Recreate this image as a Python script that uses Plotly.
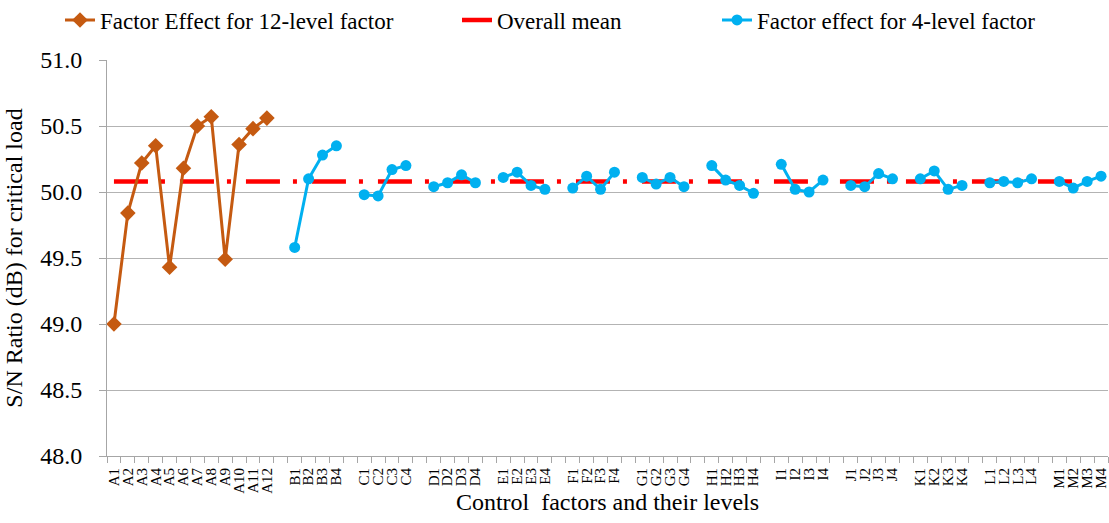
import plotly.graph_objects as go

# ---- data ----
a_levels = ["A1", "A2", "A3", "A4", "A5", "A6", "A7", "A8", "A9", "A10", "A11", "A12"]
a_values = [49.00, 49.84, 50.22, 50.35, 49.43, 50.18, 50.50, 50.57, 49.49, 50.36, 50.48, 50.56]

four_factors = ["B", "C", "D", "E", "F", "G", "H", "I", "J", "K", "L", "M"]
four_values = {
    "B": [49.58, 50.10, 50.28, 50.35],
    "C": [49.98, 49.97, 50.17, 50.20],
    "D": [50.04, 50.07, 50.13, 50.07],
    "E": [50.11, 50.15, 50.05, 50.02],
    "F": [50.03, 50.12, 50.02, 50.15],
    "G": [50.11, 50.06, 50.11, 50.04],
    "H": [50.20, 50.09, 50.05, 49.99],
    "I": [50.21, 50.02, 50.00, 50.09],
    "J": [50.05, 50.04, 50.14, 50.10],
    "K": [50.10, 50.16, 50.02, 50.05],
    "L": [50.07, 50.08, 50.07, 50.10],
    "M": [50.08, 50.03, 50.08, 50.12],
}
overall_mean = 50.08

# ---- build category axis (with blank separators) ----
categories = list(a_levels)
labels = list(a_levels)
four_x, four_y = [], []
for i, f in enumerate(four_factors):
    gap = f"gap{i}"
    categories.append(gap)
    labels.append("")
    four_x.append(gap)
    four_y.append(None)
    for lvl, v in enumerate(four_values[f], start=1):
        name = f"{f}{lvl}"
        categories.append(name)
        labels.append(name)
        four_x.append(name)
        four_y.append(v)

mean_y = [overall_mean] * len(categories)

FONT = "Liberation Serif, Times New Roman, serif"
fig = go.Figure()

fig.add_trace(go.Scatter(
    x=categories, y=mean_y, mode="lines", name="Overall mean",
    line=dict(color="#FF0000", width=4.5, dash="34px,13px,4px,15px"),
    legend="legend2", hoverinfo="skip",
))
fig.add_trace(go.Scatter(
    x=a_levels, y=a_values, mode="lines+markers",
    name="Factor Effect for 12-level factor",
    line=dict(color="#C55A11", width=3),
    marker=dict(symbol="diamond", size=12, color="#C55A11"),
    legend="legend",
))
fig.add_trace(go.Scatter(
    x=four_x, y=four_y, mode="lines+markers",
    name="Factor effect for 4-level factor",
    line=dict(color="#00B0F0", width=3),
    marker=dict(symbol="circle", size=11, color="#00B0F0"),
    connectgaps=False, legend="legend3",
))

W_PX, H_PX = 1109, 523
legend_common = dict(orientation="h", yanchor="middle", xanchor="left",
                     xref="container", yref="container",
                     y=1 - 20 / H_PX,
                     font=dict(family=FONT, size=23, color="#000000"),
                     bgcolor="rgba(0,0,0,0)", itemwidth=30)

fig.update_layout(
    width=W_PX, height=H_PX,
    margin=dict(l=107, r=1, t=60, b=67),
    paper_bgcolor="white", plot_bgcolor="white",
    font=dict(family=FONT, size=24, color="#000000"),
    showlegend=True,
    legend=dict(legend_common, x=60 / W_PX),
    legend2=dict(legend_common, x=457 / W_PX),
    legend3=dict(legend_common, x=717 / W_PX),
    xaxis=dict(
        type="category", categoryorder="array", categoryarray=categories,
        tickmode="array", tickvals=categories, ticktext=labels,
        tickson="boundaries", ticks="outside", ticklen=6, tickcolor="#A6A6A6",
        ticklabelstandoff=5,
        tickangle=-90, tickfont=dict(family=FONT, size=15, color="#000000"),
        showline=True, linecolor="#A6A6A6", linewidth=1,
        showgrid=False, range=[-0.5, len(categories) - 0.5],
        title=dict(text="Control\u00a0 factors and their levels",
                   font=dict(family=FONT, size=24), standoff=0),
        automargin=False,
    ),
    yaxis=dict(
        range=[48.0, 51.0], dtick=0.5, tick0=48.0, tickformat=".1f",
        ticks="outside", ticklen=7, tickcolor="#A6A6A6",
        ticklabelstandoff=12,
        showline=True, linecolor="#A6A6A6", linewidth=1,
        showgrid=True, gridcolor="#B3B3B3", gridwidth=1,
        zeroline=False,
        tickfont=dict(family=FONT, size=24, color="#000000"),
        title=dict(text="S/N Ratio (dB) for critical load",
                   font=dict(family=FONT, size=24), standoff=10),
        automargin=False,
    ),
)

fig.write_html("out.html")
